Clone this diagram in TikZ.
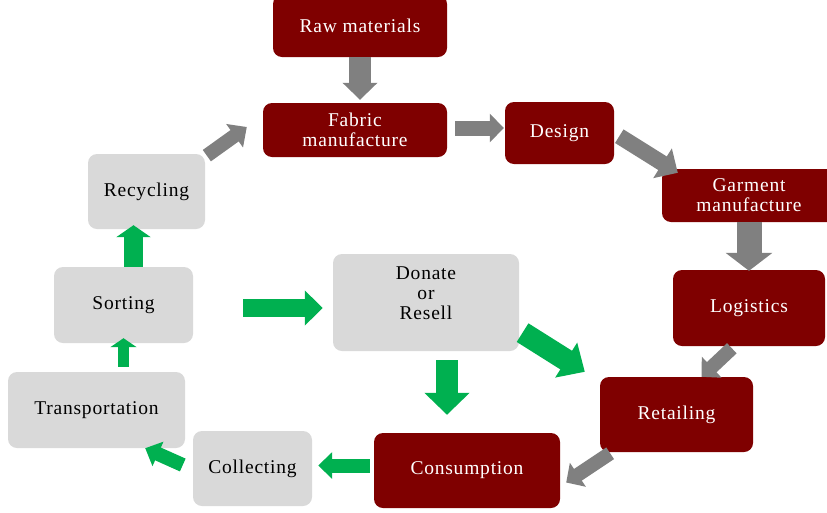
\documentclass[tikz,border=0pt]{standalone}
\usepackage{fontspec}
\setmainfont{Liberation Serif}
\usetikzlibrary{arrows.meta,calc}
\definecolor{maroon}{HTML}{7F0000}
\definecolor{lgrey}{HTML}{D9D9D9}
\definecolor{agrey}{HTML}{808080}
\definecolor{agreen}{HTML}{00B050}
\begin{document}
\begin{tikzpicture}[x=1pt,y=-1pt,
  box/.style={rectangle,rounded corners=9pt,inner sep=0pt,align=center,
    font=\fontsize{19.5}{20}\selectfont\addfontfeature{LetterSpace=4}},
  redbox/.style={box,fill=maroon,text=white},
  greybox/.style={box,fill=lgrey,text=black},
  blk/.style n args={3}{line width=#1pt,line cap=butt,
    -{Triangle[length=#3pt,width=#2pt]}},
  garr/.style={draw=agrey,color=agrey},
  grarr/.style={draw=agreen,color=agreen}]
\useasboundingbox (0,0) rectangle (827,512);
\clip (0,0) rectangle (827,512);
% red boxes
\node[redbox,minimum width=174pt,minimum height=62pt] (raw) at (360,26) {Raw materials};
\node[redbox,minimum width=184pt,minimum height=54pt] (fab) at (355,130) {Fabric\\manufacture};
\node[redbox,minimum width=109pt,minimum height=62pt] (design) at (559.5,133) {Design};
\node[redbox,minimum width=174pt,minimum height=53pt] (garm) at (749,195.5) {Garment\\manufacture};
\node[redbox,minimum width=152pt,minimum height=76pt] (logi) at (749,308) {Logistics};
\node[redbox,minimum width=153pt,minimum height=75pt] (retail) at (676.5,414.5) {Retailing};
\node[redbox,minimum width=186pt,minimum height=75pt] (cons) at (467,470.5) {Consumption};
% grey boxes
\node[greybox,minimum width=119pt,minimum height=75pt] (coll) at (252.5,468.5) {Collecting};
\node[greybox,minimum width=177pt,minimum height=76pt] (trans) at (96.5,410) {Transportation};
\node[greybox,minimum width=139pt,minimum height=76pt] (sort) at (123.5,305) {Sorting};
\node[greybox,minimum width=117pt,minimum height=75pt] (recy) at (146.5,191.5) {Recycling};
\node[greybox,minimum width=186pt,minimum height=97pt] (don) at (426,302.5) {};
\node[box] (dontext) at ([yshift=9pt]don.center) {Donate\\or\\Resell};
% grey arrows
\draw[garr,blk={22}{34}{17},shorten >=3pt] (raw.south) -- (raw.south |- fab.north);
\draw[garr,blk={15}{28}{14},shorten <=8pt,shorten >=1pt] ([yshift=2pt]fab.east) -- ([yshift=2pt]fab.east -| design.west);
\draw[garr,blk={16}{34}{18},shorten <=6pt] (design.east) -- ([shift={(16pt,-4pt)}]garm.north west);
\draw[garr,blk={25}{46}{18},shorten >=-1pt] (logi.north |- garm.south) -- (logi.north);
\draw[garr,blk={14}{28}{14},shorten <=3pt] ([xshift=-15pt]logi.south) -- ([xshift=25pt]retail.north);
\draw[garr,blk={14}{28}{14},shorten <=2pt] ([xshift=12pt]retail.south west) -- ([shift={(6pt,-12pt)}]cons.east);
\draw[garr,blk={14}{28}{15},shorten <=2pt] ([yshift=-3pt]recy.north east) -- ([shift={(-16pt,3pt)}]fab.west);
% green arrows
\draw[grarr,blk={14}{26}{14},shorten <=4pt,shorten >=6pt] ([yshift=5pt]cons.west) -- ([yshift=5pt]cons.west -| coll.east);
\draw[grarr,blk={14}{26}{14},shorten <=11pt] ([yshift=-1pt]coll.west) -- ([xshift=-40pt]trans.south east);
\draw[grarr,blk={11}{26}{9},shorten <=5pt,shorten >=-5pt] (sort.south |- trans.north) -- (sort.south);
\draw[grarr,blk={19}{34}{12},shorten >=-4pt] ([xshift=10pt]sort.north) -- ([xshift=10pt]sort.north |- recy.south);
\draw[grarr,blk={18}{34}{18},shorten <=50pt,shorten >=10pt] ([yshift=-3pt]sort.east) -- ([yshift=-3pt]sort.east -| don.west);
\draw[grarr,blk={22}{40}{22},shorten <=4pt] ([yshift=-28pt]don.east) -- ([shift={(-15pt,5pt)}]retail.north west);
\draw[grarr,blk={22}{44}{22},shorten <=9pt,shorten >=18pt] ([xshift=21pt]don.south) -- ([xshift=21pt]don.south |- cons.north);
\end{tikzpicture}
\end{document}
